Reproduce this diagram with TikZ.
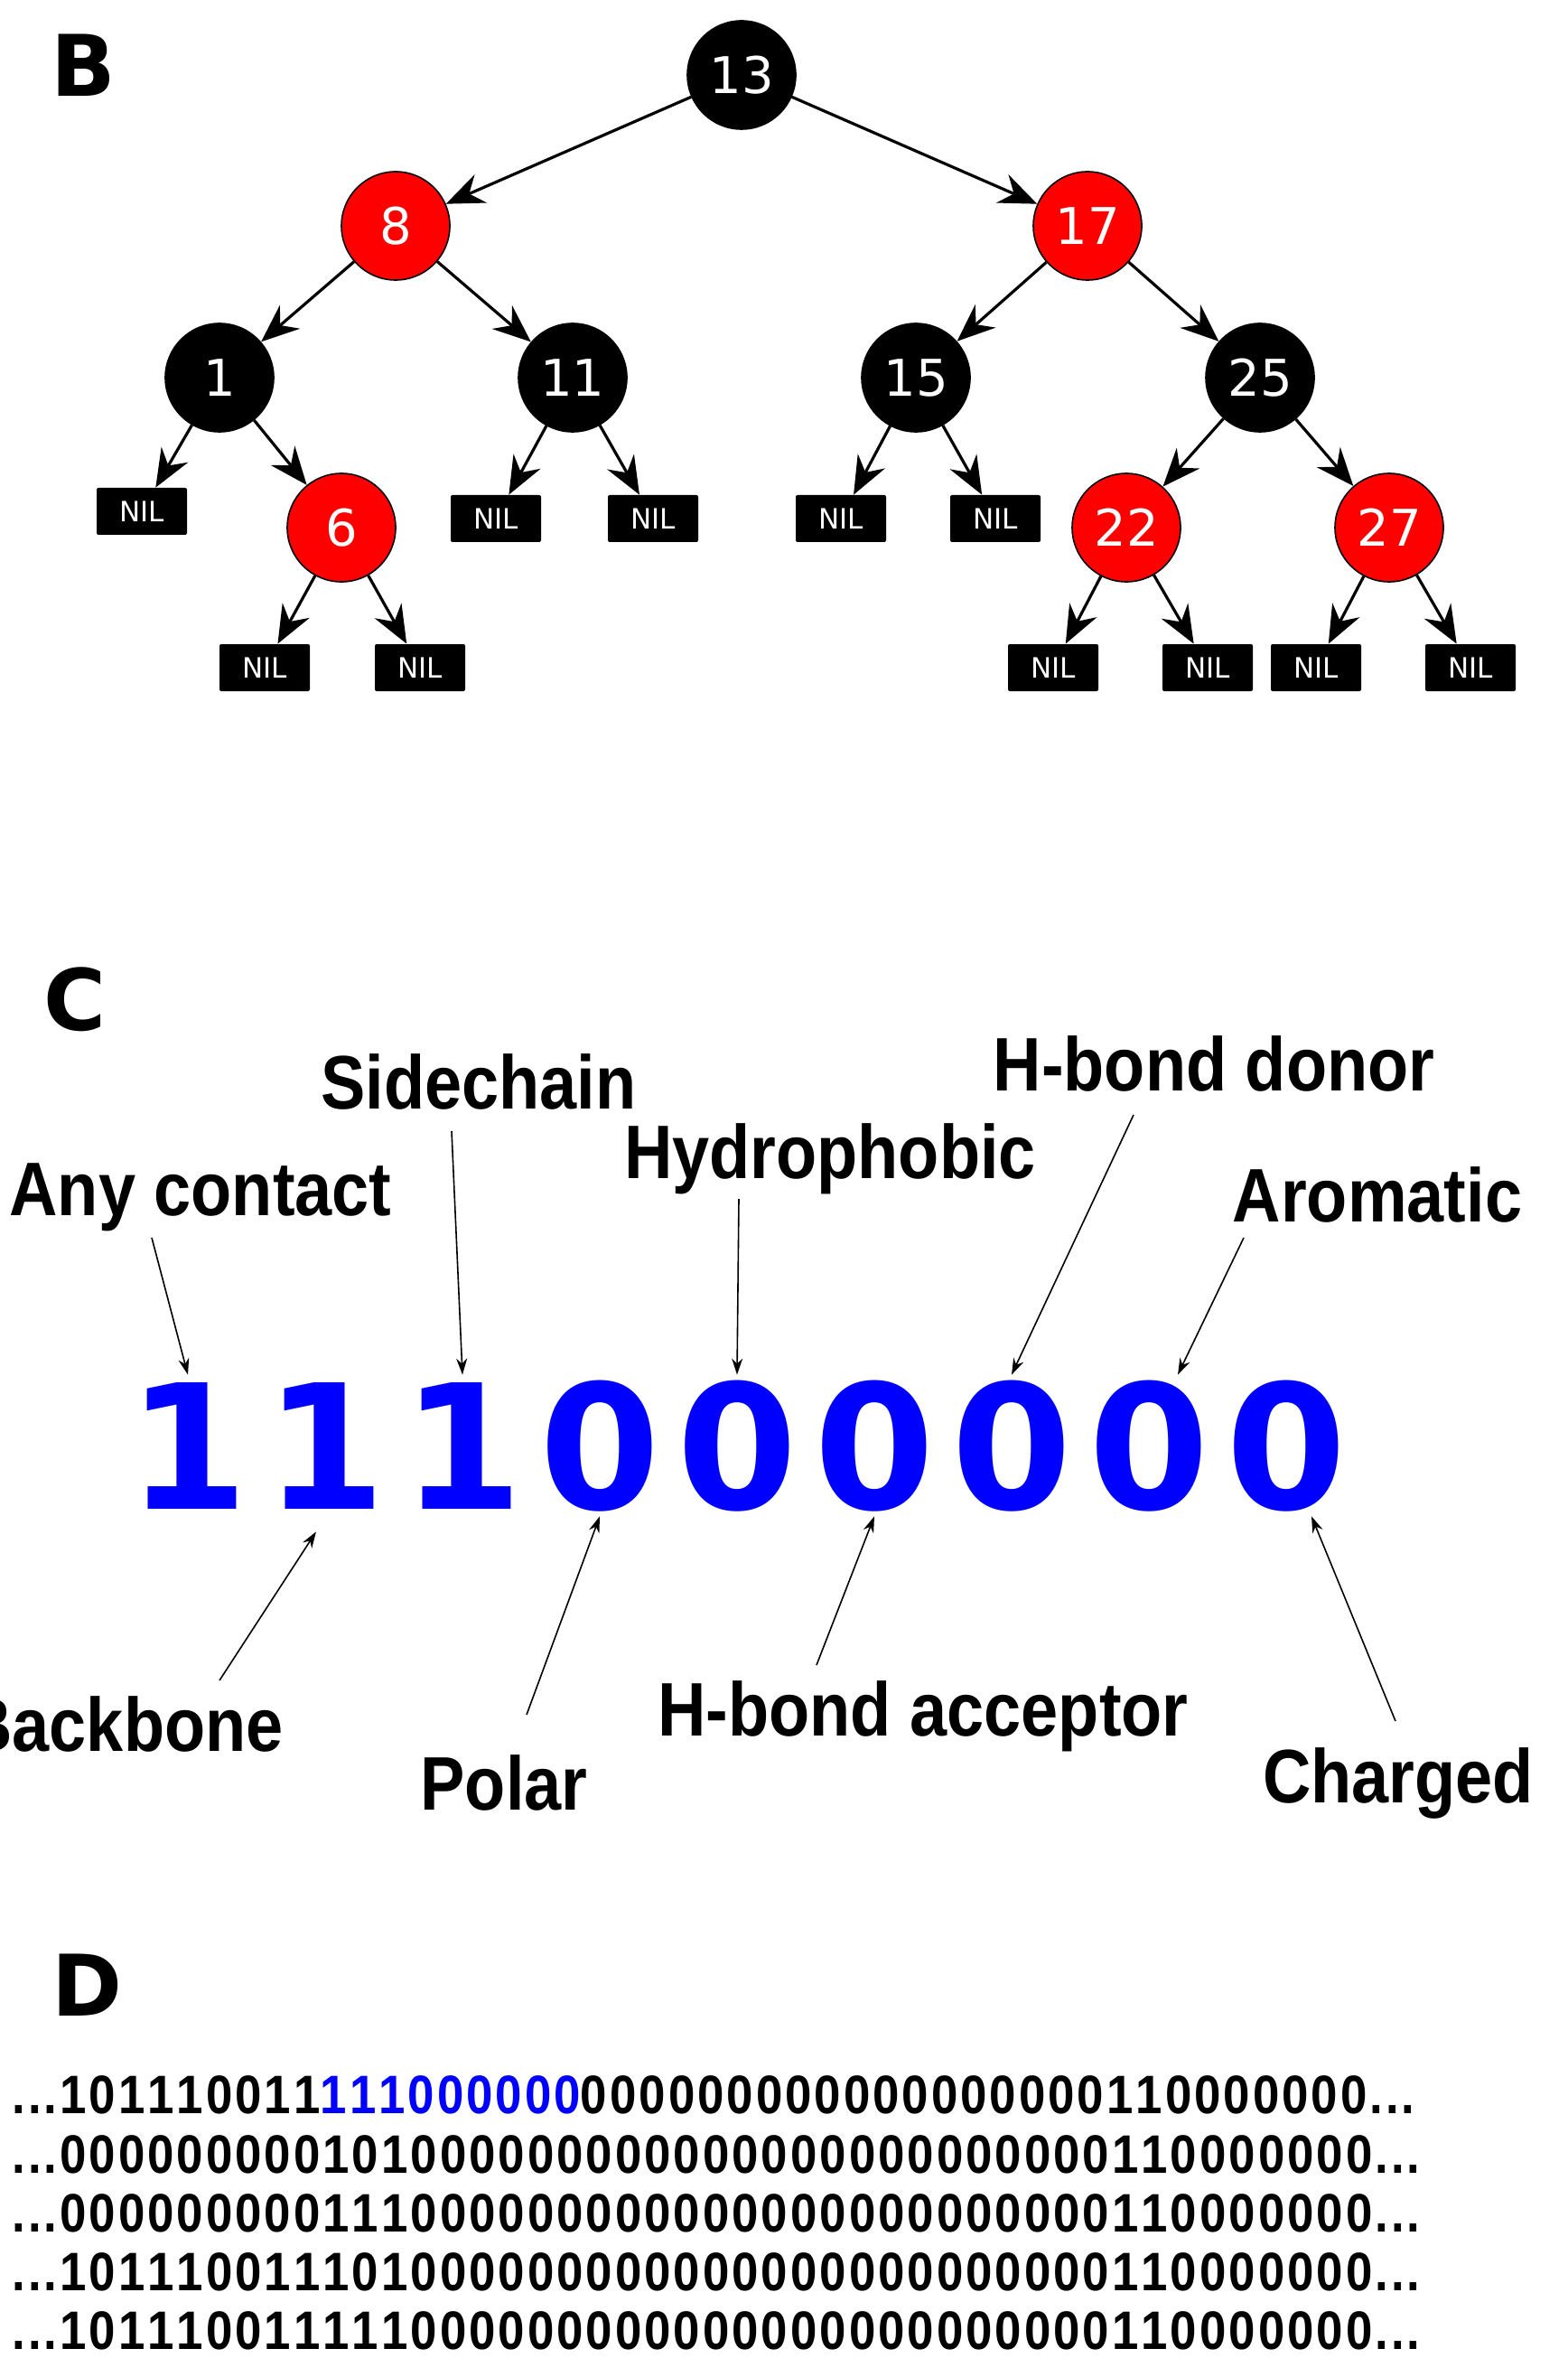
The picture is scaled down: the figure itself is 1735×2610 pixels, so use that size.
\documentclass[tikz,border=0pt]{standalone}
\usepackage{fontspec}
\setmainfont{DejaVu Sans}
\newfontfamily\narrowfont[FakeStretch=0.88]{Liberation Sans}
\newfontfamily\rowfont[FakeStretch=0.88,LetterSpace=5,Kerning=Off]{Liberation Sans}
\usetikzlibrary{calc,arrows.meta}
\definecolor{rbred}{HTML}{FF0000}
\definecolor{bitblue}{HTML}{0000FF}

\begin{document}
\begin{tikzpicture}[x=0.5pt, y=-0.5pt,
  rb/.style = {circle, draw=black, line width=0.8pt, minimum size=60pt, inner sep=0pt, text=white, font=\fontsize{28}{30}\selectfont},
  blacknode/.style = {rb, fill=black},
  rednode/.style = {rb, fill=rbred},
  nil/.style = {fill=black, rounded corners=1pt, minimum width=50pt, minimum height=26pt, inner sep=0pt, text=white, font=\fontsize{15.5}{17}\selectfont},
  edge/.style = {line width=1.6pt, -{Stealth[length=21pt, width=17pt, inset=7pt]}},
  panel/.style = {anchor=base west, inner sep=0pt, font=\bfseries\fontsize{47}{50}\selectfont},
  tag/.style = {anchor=base, inner sep=0pt, font=\narrowfont\bfseries\fontsize{42}{44}\selectfont},
  bit/.style = {anchor=base, inner sep=4pt, text height=70pt, text depth=0pt, text=bitblue, font=\bfseries\fontsize{96}{100}\selectfont},
  pointer/.style = {line width=0.8pt, -{Stealth[length=9pt, width=6pt]}},
  row/.style = {anchor=base west, inner sep=0pt, font=\rowfont\bfseries\fontsize{30}{32}\selectfont}]
  \path[use as bounding box, fill=white] (0,0) rectangle (1735,2610);

  \node[panel] (pb) at (56,107) {B};
  \node[panel] (pc) at (48,1140) {C};
  \node[panel] (pd) at (57,2231) {D};

  \node[blacknode] (n13) at (821,83) {13};
  \node[rednode] (n8) at (438,250) {8};
  \node[rednode] (n17) at (1204,250) {17};
  \node[blacknode] (n1) at (243,418) {1};
  \node[blacknode] (n11) at (634,418) {11};
  \node[blacknode] (n15) at (1014,418) {15};
  \node[blacknode] (n25) at (1395,418) {25};
  \node[rednode] (n6) at (378,584) {6};
  \node[rednode] (n22) at (1247,584) {22};
  \node[rednode] (n27) at (1538,584) {27};

  \node[nil] (nil1l) at (157,566) {NIL};
  \node[nil] (nil11l) at (549,574) {NIL};
  \node[nil] (nil11r) at (723,574) {NIL};
  \node[nil] (nil15l) at (931,574) {NIL};
  \node[nil] (nil15r) at (1102,574) {NIL};
  \node[nil] (nil6l) at (293,739) {NIL};
  \node[nil] (nil6r) at (465,739) {NIL};
  \node[nil] (nil22l) at (1166,739) {NIL};
  \node[nil] (nil22r) at (1337,739) {NIL};
  \node[nil] (nil27l) at (1457,739) {NIL};
  \node[nil] (nil27r) at (1628,739) {NIL};

  \draw[edge] (n13) -- (n8);
  \draw[edge] (n13) -- (n17);
  \draw[edge] (n8) -- (n1);
  \draw[edge] (n8) -- (n11);
  \draw[edge] (n17) -- (n15);
  \draw[edge] (n17) -- (n25);
  \draw[edge] (n1) -- (nil1l);
  \draw[edge] (n1) -- (n6);
  \draw[edge] (n11) -- (nil11l);
  \draw[edge] (n11) -- (nil11r);
  \draw[edge] (n15) -- (nil15l);
  \draw[edge] (n15) -- (nil15r);
  \draw[edge] (n25) -- (n22);
  \draw[edge] (n25) -- (n27);
  \draw[edge] (n6) -- (nil6l);
  \draw[edge] (n6) -- (nil6r);
  \draw[edge] (n22) -- (nil22l);
  \draw[edge] (n22) -- (nil22r);
  \draw[edge] (n27) -- (nil27l);
  \draw[edge] (n27) -- (nil27r);

  \node[bit] (d1) at (208,1670) {1};
  \node[bit] (d2) at (360,1670) {1};
  \node[bit] (d3) at (512,1670) {1};
  \node[bit] (d4) at (664,1670) {0};
  \node[bit] (d5) at (816,1670) {0};
  \node[bit] (d6) at (968,1670) {0};
  \node[bit] (d7) at (1120,1670) {0};
  \node[bit] (d8) at (1272,1670) {0};
  \node[bit] (d9) at (1424,1670) {0};

  \node[tag] (anyc) at (222,1345) {Any contact};
  \node[tag] (side) at (530,1227) {Sidechain};
  \node[tag] (hydro) at (919,1304) {Hydrophobic};
  \node[tag] (donor) at (1344,1207) {H-bond donor};
  \node[tag] (arom) at (1525,1352) {Aromatic};
  \node[tag] (backb) at (137,1938) {Backbone};
  \node[tag] (polar) at (558,2003) {Polar};
  \node[tag] (accept) at (1022,1921) {H-bond acceptor};
  \node[tag] (charge) at (1548,1995) {Charged};

  \draw[pointer] ($(anyc.base)+(-54,25)$) -- (d1.north);
  \draw[pointer] ($(side.base)+(-30,25)$) -- (d3.north);
  \draw[pointer] ($(hydro.base)+(-101,23)$) -- (d5.north);
  \draw[pointer] ($(donor.base)+(-89,27)$) -- (d7.north);
  \draw[pointer] ($(arom.base)+(-148,18)$) -- ($(d8.north)+(32,0)$);
  \draw[pointer] ($(backb.base)+(106,-78)$) -- ($(d2.south)+(-10,17)$);
  \draw[pointer] ($(polar.base)+(25,-105)$) -- (d4.south);
  \draw[pointer] ($(accept.base)+(-118,-78)$) -- (d6.south);
  \draw[pointer] ($(charge.base)+(-3,-90)$) -- ($(d9.south)+(28,0)$);

  \node[row] (r1) at (13,2339) {...101110011\textcolor{bitblue}{111000000}000000000000000000110000000...};
  \node[row] (r2) at (13,2405) {...000000000101000000000000000000000000110000000...};
  \node[row] (r3) at (13,2470) {...000000000111000000000000000000000000110000000...};
  \node[row] (r4) at (13,2535) {...101110011101000000000000000000000000110000000...};
  \node[row] (r5) at (13,2600) {...101110011111000000000000000000000000110000000...};
\end{tikzpicture}
\end{document}
